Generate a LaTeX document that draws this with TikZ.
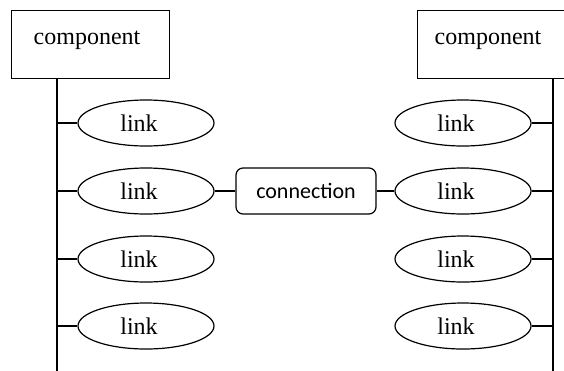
\documentclass[tikz,border=0pt]{standalone}
\usepackage{fontspec}
\setmainfont{Liberation Serif}
\newfontfamily\connfont{Carlito}
\usetikzlibrary{shapes.geometric}
\tikzset{
  compbox/.style={draw, minimum width=158pt, minimum height=68pt, inner sep=0pt, anchor=north west},
  comptext/.style={font=\fontsize{24}{28}\selectfont, inner sep=0pt},
  linkbox/.style={draw, ellipse, minimum width=136pt, minimum height=46pt, inner sep=0pt, font=\fontsize{24}{28}\selectfont},
  connbox/.style={draw, rounded corners=7pt, minimum width=140pt, minimum height=46pt, inner sep=0pt, font=\connfont\fontsize{22}{26}\selectfont}
}
\begin{document}
\begin{tikzpicture}[x=1pt, y=-1pt, line width=1.2pt]
\useasboundingbox (0,0) rectangle (564,370);
% components
\node[compbox] (compL) at (11,10) {};
\node[comptext] (compLt) at (87,40) {component};
\node[compbox] (compR) at (417,10) {};
\node[comptext] (compRt) at (488,40) {component};
% spines
\coordinate (lt) at (57,78);
\coordinate (lb) at (57,372);
\coordinate (rt) at (553,78);
\coordinate (rb) at (553,372);
\draw (lt) -- (lb);
\draw (rt) -- (rb);
% links
\foreach \i/\y in {1/123, 2/191, 3/259, 4/326} {
  \node[linkbox] (L\i) at (146,\y) {link\kern14pt};
  \node[linkbox] (R\i) at (463,\y) {link\kern14pt};
  \coordinate (jL\i) at (57,\y);
  \coordinate (jR\i) at (553,\y);
  \draw (jL\i) -- (L\i.west);
  \draw (R\i.east) -- (jR\i);
}
% connection
\node[connbox] (conn) at (306,191) {connection};
\draw (L2.east) -- (conn.west);
\draw (conn.east) -- (R2.west);
\end{tikzpicture}
\end{document}
